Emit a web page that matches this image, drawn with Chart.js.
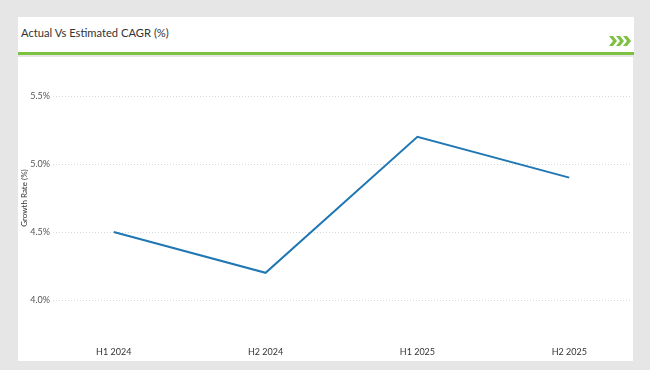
<!DOCTYPE html>
<html>
<head>
<meta charset="utf-8">
<script src="https://cdn.jsdelivr.net/npm/chart.js@4.4.0/dist/chart.umd.min.js"></script>
<style>
  html, body { margin: 0; padding: 0; }
  body { width: 650px; height: 370px; background: #e6e6e6; position: relative; overflow: hidden; font-family: Lato, "Open Sans", sans-serif; }
  #header { position: absolute; left: 18px; top: 17px; width: 616px; height: 35px; background: #fff; border-bottom: 3px solid #7cc142; }
  #title { position: absolute; left: 3px; top: 9px; font-size: 11.2px; color: #333; }
  #chev { position: absolute; right: 3px; top: 19px; }
  #panel { position: absolute; left: 18px; top: 57px; width: 615px; height: 304px; background: #fff; }
  #c { display: block; }
</style>
</head>
<body>
<div id="header">
  <div id="title">Actual Vs Estimated CAGR (%)</div>
  <svg id="chev" width="22" height="10" viewBox="0 0 22 10">
    <path d="M0 0 L4 0 L8 5 L4 10 L0 10 L4 5 Z" fill="#7cc142"/>
    <path d="M7 0 L11 0 L15 5 L11 10 L7 10 L11 5 Z" fill="#7cc142"/>
    <path d="M14 0 L18 0 L22 5 L18 10 L14 10 L18 5 Z" fill="#7cc142"/>
  </svg>
</div>
<div id="panel"><canvas id="c" width="615" height="304"></canvas></div>
<script>
const categories = ["H1 2024", "H2 2024", "H1 2025", "H2 2025"];
const growthRate = [4.5, 4.2, 5.2, 4.9];
const yTicks = [4.0, 4.5, 5.0, 5.5];
const yAxisTitle = "Growth Rate (%)";

const points = growthRate.map((v, i) => ({ x: i, y: v }));

new Chart(document.getElementById('c'), {
  type: 'line',
  data: {
    datasets: [{
      data: points,
      borderColor: '#1f77b4',
      borderWidth: 2,
      pointRadius: 0,
      pointHoverRadius: 0,
      fill: false,
      tension: 0
    }]
  },
  options: {
    responsive: false,
    animation: false,
    layout: { padding: { top: 5, right: 3, left: 0, bottom: 0 } },
    plugins: { legend: { display: false }, tooltip: { enabled: false } },
    scales: {
      x: {
        type: 'linear',
        min: -0.4,
        max: 3.4,
        afterBuildTicks: (s) => { s.ticks = categories.map((_, i) => ({ value: i })); },
        afterFit: (s) => { s.height = 27; s.paddingLeft = 0; s.paddingRight = 0; },
        grid: { display: false, drawTicks: false },
        border: { display: false },
        ticks: {
          padding: 13,
          autoSkip: false,
          maxRotation: 0,
          color: '#333',
          font: { family: 'Lato, "Open Sans", sans-serif', size: 9 },
          callback: (v) => categories[v] ?? ''
        }
      },
      y: {
        min: 3.75,
        max: 5.75,
        afterBuildTicks: (s) => { s.ticks = yTicks.map(v => ({ value: v })); },
        afterFit: (s) => { s.width = 35; s.paddingTop = 0; s.paddingBottom = 0; },
        grid: { color: '#d9d9d9', lineWidth: 1, drawTicks: false },
        border: { display: false, dash: [1, 2] },
        ticks: {
          padding: 3,
          color: '#555',
          font: { family: 'Lato, "Open Sans", sans-serif', size: 9 },
          callback: (v) => v.toFixed(1) + '%'
        },
        title: {
          display: true,
          text: yAxisTitle,
          color: '#333',
          padding: { top: 2, bottom: 0 },
          font: { family: 'Lato, "Open Sans", sans-serif', size: 8 }
        }
      }
    }
  }
});
</script>
</body>
</html>
